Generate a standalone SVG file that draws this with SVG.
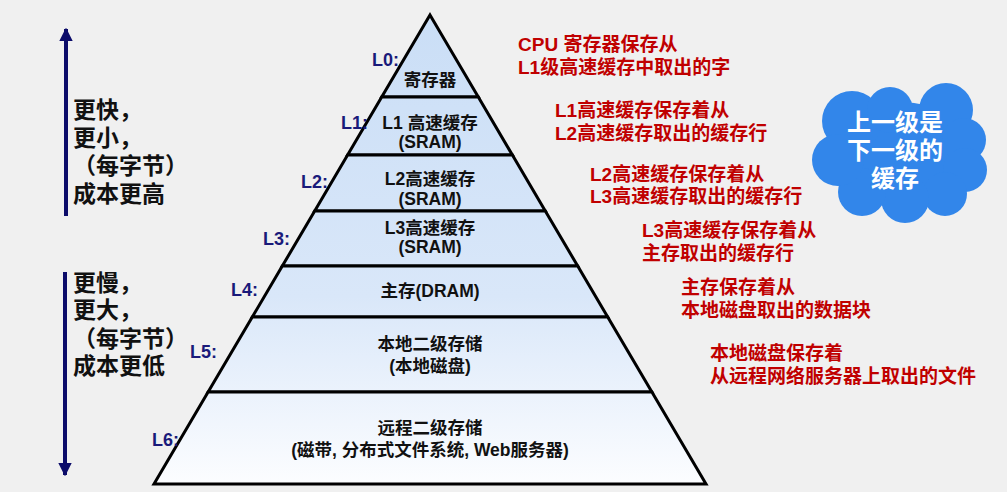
<svg xmlns="http://www.w3.org/2000/svg" width="1007" height="492" viewBox="0 0 1007 492">
<style>
.lvl{fill:url(#pg);stroke:#000;stroke-width:3;stroke-linejoin:miter}
.lab{font-family:"Liberation Sans","Noto Sans CJK SC",sans-serif;font-weight:bold;font-size:18px;fill:#1a1a7a;text-anchor:end}
.in{font-family:"Liberation Sans","Noto Sans CJK SC",sans-serif;font-weight:bold;font-size:17.5px;fill:#111;text-anchor:middle}
.red{font-family:"Liberation Sans","Noto Sans CJK SC",sans-serif;font-weight:bold;font-size:19px;fill:#c00000}
.side{font-family:"Liberation Sans","Noto Sans CJK SC",sans-serif;font-weight:bold;font-size:23px;fill:#111}
.cl{font-family:"Liberation Sans","Noto Sans CJK SC",sans-serif;font-weight:bold;font-size:24px;fill:#fff;text-anchor:middle}
</style>
<defs>
<linearGradient id="pg" gradientUnits="userSpaceOnUse" x1="0" y1="15" x2="0" y2="484">
<stop offset="0" stop-color="#cadef6"/>
<stop offset="0.6" stop-color="#d9e7f9"/>
<stop offset="1" stop-color="#fcfdff"/>
</linearGradient>
<marker id="ah" viewBox="0 0 10 10" refX="9" refY="5" markerWidth="3.4" markerHeight="3.4" orient="auto" markerUnits="strokeWidth">
<path d="M0,0 L10,5 L0,10 z" fill="#0c0c6a"/>
</marker>
</defs>
<rect width="1007" height="492" fill="#f0f0f0"/>

<g id="connectors">
<line x1="66" y1="216" x2="66" y2="29" stroke="#0c0c6a" stroke-width="4" marker-end="url(#ah)"/>
<line x1="65" y1="272" x2="65" y2="475" stroke="#0c0c6a" stroke-width="4" marker-end="url(#ah)"/>
</g>

<g id="L0">
<polygon class="lvl" points="430,15 478.3,97 381.7,97"/>
<text class="lab" x="399" y="66">L0:</text>
<text class="in" x="430" y="86">寄存器</text>
</g>
<g id="L1">
<polygon class="lvl" points="381.7,97 478.3,97 512.4,155 347.6,155"/>
<text class="lab" x="368" y="129">L1:</text>
<text class="in" x="430" y="129">L1 高速缓存</text>
<text class="in" x="430" y="148">(SRAM)</text>
</g>
<g id="L2">
<polygon class="lvl" points="347.6,155 512.4,155 545.3,211 314.7,211"/>
<text class="lab" x="328" y="188">L2:</text>
<text class="in" x="430" y="185">L2高速缓存</text>
<text class="in" x="430" y="205">(SRAM)</text>
</g>
<g id="L3">
<polygon class="lvl" points="314.7,211 545.3,211 577.7,266 282.3,266"/>
<text class="lab" x="290" y="245">L3:</text>
<text class="in" x="430" y="234">L3高速缓存</text>
<text class="in" x="430" y="253">(SRAM)</text>
</g>
<g id="L4">
<polygon class="lvl" points="282.3,266 577.7,266 607.7,317 252.3,317"/>
<text class="lab" x="258" y="296">L4:</text>
<text class="in" x="430" y="297">主存(DRAM)</text>
</g>
<g id="L5">
<polygon class="lvl" points="252.3,317 607.7,317 651.9,392 208.1,392"/>
<text class="lab" x="217" y="358">L5:</text>
<text class="in" x="430" y="350">本地二级存储</text>
<text class="in" x="430" y="372">(本地磁盘)</text>
</g>
<g id="L6">
<polygon class="lvl" points="208.1,392 651.9,392 706,484 154,484"/>
<text class="lab" x="179" y="446">L6:</text>
<text class="in" x="430" y="434">远程二级存储</text>
<text class="in" x="430" y="456">(磁带, 分布式文件系统, Web服务器)</text>
</g>

<g id="notes">
<text class="red" x="518" y="51">CPU 寄存器保存从</text>
<text class="red" x="518" y="74">L1级高速缓存中取出的字</text>
<text class="red" x="555" y="117">L1高速缓存保存着从</text>
<text class="red" x="555" y="140">L2高速缓存取出的缓存行</text>
<text class="red" x="590" y="181">L2高速缓存保存着从</text>
<text class="red" x="590" y="203">L3高速缓存取出的缓存行</text>
<text class="red" x="642" y="237">L3高速缓存保存着从</text>
<text class="red" x="642" y="260">主存取出的缓存行</text>
<text class="red" x="681" y="294">主存保存着从</text>
<text class="red" x="681" y="317">本地磁盘取出的数据块</text>
<text class="red" x="710" y="360">本地磁盘保存着</text>
<text class="red" x="710" y="383">从远程网络服务器上取出的文件</text>
</g>

<g id="faster">
<text class="side" x="73" y="118">更快，</text>
<text class="side" x="73" y="146">更小，</text>
<text class="side" x="73" y="174">（每字节）</text>
<text class="side" x="73" y="202">成本更高</text>
</g>
<g id="slower">
<text class="side" x="73" y="291">更慢，</text>
<text class="side" x="73" y="318">更大，</text>
<text class="side" x="73" y="347">（每字节）</text>
<text class="side" x="73" y="374">成本更低</text>
</g>

<g id="cloud">
<g fill="#3286ea">
<ellipse cx="900" cy="152" rx="72" ry="50"/>
<circle cx="852" cy="121" r="30"/>
<circle cx="890" cy="110" r="23"/>
<circle cx="946" cy="110" r="27"/>
<circle cx="964" cy="140" r="22"/>
<circle cx="965" cy="170" r="22"/>
<circle cx="945" cy="194" r="22"/>
<circle cx="905" cy="199" r="24"/>
<circle cx="862" cy="192" r="24"/>
<circle cx="838" cy="160" r="26"/>
</g>
<text class="cl" x="895" y="131">上一级是</text>
<text class="cl" x="895" y="159">下一级的</text>
<text class="cl" x="895" y="187">缓存</text>
</g>
</svg>
